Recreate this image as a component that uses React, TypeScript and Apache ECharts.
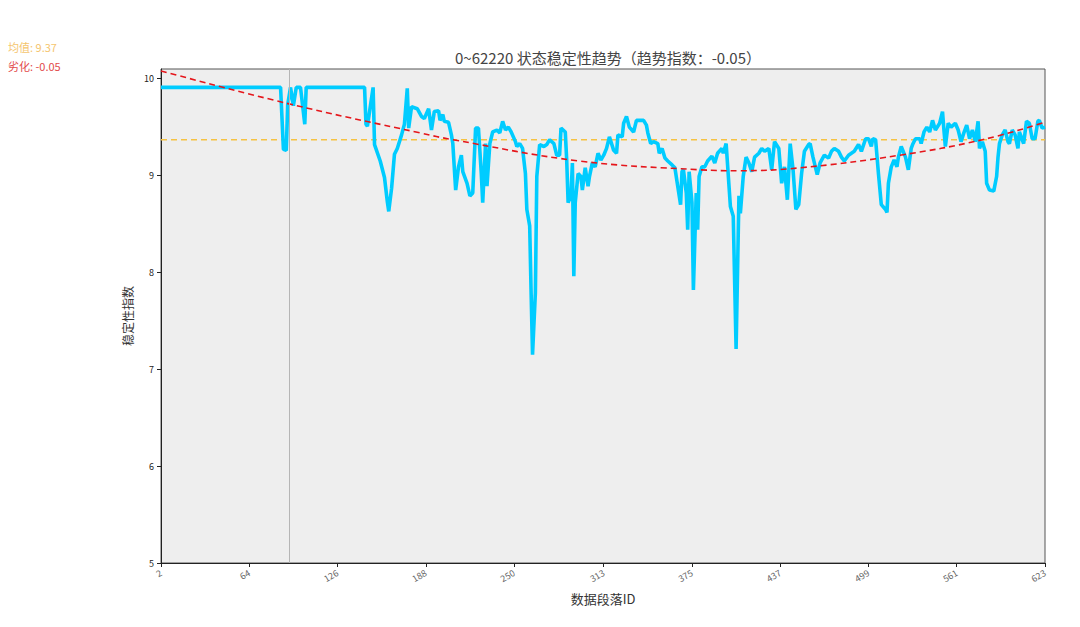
import * as echarts from "echarts";
import { useEffect, useRef } from "react";

const FONT = '"Noto Sans CJK SC", "Noto Sans", sans-serif';

// x = 数据段落ID, y = 稳定性指数
const segmentIds = [
  2, 86, 88, 90, 91, 93, 95, 97, 100, 103, 104, 145, 146, 147, 151, 152, 156,
  159, 161, 162, 164, 166, 168, 171, 173, 175, 176, 178, 182, 185, 187, 190,
  192, 194, 197, 198, 200, 201, 204, 206, 207, 209, 211, 213, 214, 217, 219,
  221, 223, 225, 227, 228, 230, 231, 233, 235, 238, 240, 242, 244, 246, 248,
  251, 252, 254, 256, 258, 259, 261, 262, 263, 265, 266, 268, 271, 273, 275,
  278, 280, 282, 283, 286, 287, 288, 290, 291, 292, 293, 295, 297, 298, 300,
  302, 303, 305, 307, 309, 311, 313, 315, 317, 320, 322, 323, 326, 327, 329,
  331, 334, 336, 338, 341, 343, 344, 346, 348, 351, 352, 354, 356, 358, 361,
  363, 365, 367, 368, 369, 371, 372, 373, 375, 376, 378, 379, 380, 382, 384,
  386, 389, 391, 393, 396, 397, 399, 402, 404, 406, 408, 409, 411, 413, 415,
  417, 419, 422, 424, 426, 429, 431, 433, 436, 438, 440, 442, 444, 446, 448,
  450, 452, 454, 457, 458, 460, 463, 465, 468, 471, 473, 475, 478, 480, 482,
  485, 487, 489, 492, 494, 497, 499, 501, 502, 504, 506, 508, 511, 512, 513,
  515, 517, 519, 520, 522, 525, 527, 529, 530, 532, 535, 536, 538, 540, 542,
  544, 546, 549, 551, 552, 553, 555, 557, 560, 562, 564, 566, 568, 570, 572,
  574, 576, 577, 579, 581, 582, 584, 587, 589, 590, 591, 593, 595, 597, 598,
  600, 602, 604, 605, 608, 610, 612, 614, 616, 618, 619, 621, 623,
];

const stabilityValues = [
  9.91, 9.91, 9.27, 9.26, 9.73, 9.91, 9.72, 9.91, 9.91, 9.53, 9.91, 9.91,
  9.53, 9.51, 9.91, 9.32, 9.15, 8.98, 8.73, 8.63, 8.87, 9.22, 9.28, 9.42,
  9.53, 9.9, 9.49, 9.71, 9.69, 9.61, 9.59, 9.69, 9.47, 9.66, 9.67, 9.57,
  9.63, 9.56, 9.55, 9.42, 9.33, 8.85, 9.09, 9.21, 9.04, 8.92, 8.79, 8.82,
  9.49, 9.49, 9.02, 8.72, 9.33, 8.89, 9.33, 9.45, 9.47, 9.44, 9.56, 9.47,
  9.5, 9.45, 9.35, 9.3, 9.33, 9.28, 9.02, 8.65, 8.48, 7.79, 7.15, 7.79,
  8.99, 9.32, 9.3, 9.32, 9.37, 9.33, 9.21, 9.21, 9.49, 9.45, 9.16, 8.72,
  8.79, 9.13, 7.96, 8.72, 9.02, 8.99, 8.85, 9.08, 8.89, 8.99, 9.13, 9.09,
  9.23, 9.16, 9.21, 9.28, 9.4, 9.26, 9.23, 9.42, 9.4, 9.54, 9.61, 9.5,
  9.45, 9.57, 9.57, 9.57, 9.52, 9.44, 9.33, 9.35, 9.33, 9.23, 9.28, 9.18,
  9.15, 9.11, 9.08, 8.89, 8.7, 9.04, 9.06, 8.82, 8.44, 9.04, 8.72, 7.82,
  8.82, 8.44, 8.99, 9.09, 9.09, 9.15, 9.2, 9.13, 9.23, 9.28, 9.23, 9.33,
  8.68, 8.58, 7.21, 8.79, 8.61, 8.99, 9.19, 9.13, 9.04, 9.19, 9.23, 9.28,
  9.25, 9.28, 9.06, 9.35, 9.28, 8.92, 9.09, 8.75, 9.33, 9.06, 8.65, 8.7,
  9.02, 9.25, 9.32, 9.33, 9.19, 9.01, 9.13, 9.21, 9.18, 9.25, 9.28, 9.25,
  9.19, 9.15, 9.21, 9.23, 9.25, 9.32, 9.25, 9.38, 9.38, 9.3, 9.38, 9.37,
  9.02, 8.7, 8.65, 8.62, 8.92, 9.09, 9.16, 9.09, 9.19, 9.3, 9.19, 9.06,
  9.28, 9.32, 9.38, 9.38, 9.33, 9.45, 9.5, 9.45, 9.57, 9.47, 9.54, 9.66,
  9.47, 9.3, 9.54, 9.5, 9.54, 9.47, 9.35, 9.44, 9.52, 9.38, 9.47, 9.35,
  9.56, 9.28, 9.35, 9.25, 8.92, 8.85, 8.84, 8.99, 9.19, 9.33, 9.42, 9.47,
  9.35, 9.33, 9.47, 9.42, 9.28, 9.45, 9.33, 9.56, 9.54, 9.38, 9.38, 9.56,
  9.57, 9.49, 9.5,
];

// fitted trend curve
const trendIds = [2, 92, 184, 207, 296, 380, 409, 451, 521, 579, 623];
const trendValues = [10.08, 9.74, 9.44, 9.37, 9.15, 9.06, 9.05, 9.08, 9.21, 9.37, 9.55];

const meanValue = 9.37;
const degradation = -0.05;
const markerId = 92;

const xTickLabels = [2, 64, 126, 188, 250, 313, 375, 437, 499, 561, 623];
const yTickLabels = [5, 6, 7, 8, 9, 10];

function getOption() {
  const lineData = segmentIds.map((id, i) => [id, stabilityValues[i]]);
  const trendData = trendIds.map((id, i) => [id, trendValues[i]]);
  const xMin = xTickLabels[0];
  const xMax = xTickLabels[xTickLabels.length - 1];

  return {
    animation: false,
    textStyle: { fontFamily: FONT },
    title: {
      text: `0~62220 状态稳定性趋势（趋势指数：${degradation.toFixed(2)}）`,
      left: 603,
      top: 45,
      textAlign: "center",
      textStyle: { fontSize: 15, fontWeight: "normal", color: "#444", fontFamily: FONT },
    },
    graphic: [
      {
        type: "text",
        left: 8,
        top: 41,
        style: { text: `均值: ${meanValue}`, fill: "#f5c56e", fontSize: 11, fontFamily: FONT },
      },
      {
        type: "text",
        left: 8,
        top: 60,
        style: { text: `劣化: ${degradation}`, fill: "#e24a4a", fontSize: 11, fontFamily: FONT },
      },
    ],
    grid: {
      left: 161,
      right: 35,
      top: 69,
      bottom: 64,
      show: true,
      backgroundColor: "#eeeeee",
      borderColor: "#555",
      borderWidth: 1,
    },
    xAxis: {
      type: "value",
      min: xMin,
      max: xMax,
      name: "数据段落ID",
      nameLocation: "middle",
      nameGap: 29,
      nameTextStyle: { fontSize: 13, color: "#333", fontFamily: FONT },
      axisLine: { lineStyle: { color: "#222" } },
      axisTick: { customValues: xTickLabels, length: 4, lineStyle: { color: "#222" } },
      axisLabel: {
        customValues: xTickLabels,
        rotate: 30,
        fontSize: 9,
        color: "#666",
        margin: 9,
        formatter: (v: number) => String(Math.round(v)),
      },
      splitLine: { show: false },
    },
    yAxis: {
      type: "value",
      min: 5,
      max: 10.1,
      name: "稳定性指数",
      nameLocation: "middle",
      nameGap: 28,
      nameRotate: 90,
      nameTextStyle: { fontSize: 12, color: "#333", fontFamily: FONT },
      axisLine: { show: true, lineStyle: { color: "#222" } },
      axisTick: { show: true, customValues: yTickLabels, length: 4, lineStyle: { color: "#222" } },
      axisLabel: { customValues: yTickLabels, fontSize: 9, color: "#222", margin: 7 },
      splitLine: { show: false },
    },
    series: [
      {
        name: "均值",
        type: "line",
        data: [
          [xMin, meanValue],
          [xMax, meanValue],
        ],
        showSymbol: false,
        silent: true,
        lineStyle: { color: "#f5c242", width: 1.6, type: [6, 4] },
        markLine: {
          silent: true,
          symbol: "none",
          label: { show: false },
          lineStyle: { color: "#b5b5b5", width: 1, type: "solid" },
          data: [{ xAxis: markerId }],
        },
        z: 1,
      },
      {
        name: "稳定性指数",
        type: "line",
        data: lineData,
        showSymbol: false,
        lineStyle: { color: "#00ccff", width: 3.6 },
        z: 2,
      },
      {
        name: "趋势",
        type: "line",
        data: trendData,
        smooth: 0.4,
        showSymbol: false,
        silent: true,
        lineStyle: { color: "#e5161b", width: 1.6, type: [6, 4] },
        z: 3,
      },
    ],
  };
}

export default function App() {
  const ref = useRef<HTMLDivElement>(null);

  useEffect(() => {
    if (!ref.current) return;
    const chart = echarts.init(ref.current, undefined, { renderer: "svg" });
    chart.setOption(getOption());
    return () => {
      chart.dispose();
    };
  }, []);

  return (
    <div
      ref={ref}
      style={{ position: "fixed", left: 0, top: 0, width: 1080, height: 627, background: "#fff" }}
    />
  );
}
